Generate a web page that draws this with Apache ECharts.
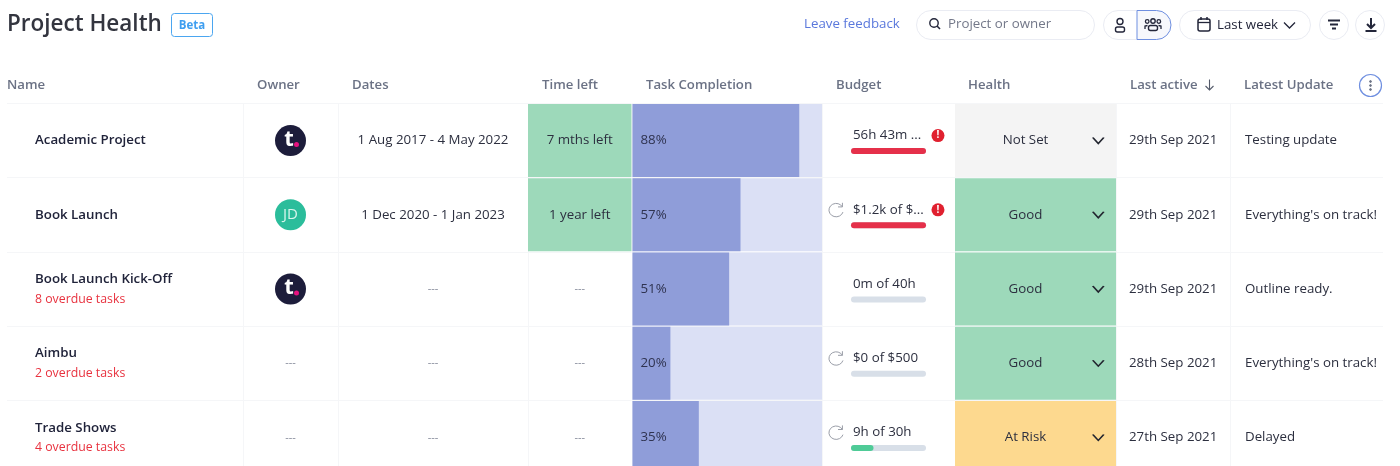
<!DOCTYPE html>
<html>
<head>
<meta charset="utf-8">
<style>html,body{margin:0;padding:0;background:#fff}#main{width:1400px;height:466px}</style>
<script src="https://cdn.jsdelivr.net/npm/echarts@6/dist/echarts.min.js"></script>
</head>
<body>
<div id="main"></div>
<script>
var names = ['Academic Project', 'Book Launch', 'Book Launch Kick-Off', 'Aimbu', 'Trade Shows'];
var overdue = ['', '', '8 overdue tasks', '2 overdue tasks', '4 overdue tasks'];
var owners = ['t', 'JD', 't', '', ''];
var dates = ['1 Aug 2017 - 4 May 2022', '1 Dec 2020 - 1 Jan 2023', '---', '---', '---'];
var timeLeft = ['7 mths left', '1 year left', '---', '---', '---'];
var completion = [88, 57, 51, 20, 35];
var budgetText = ['56h 43m ...', '$1.2k of $...', '0m of 40h', '$0 of $500', '9h of 30h'];
var budgetUsed = [100, 100, 0, 0, 30];
var budgetOver = [1, 1, 0, 0, 0];
var budgetRepeat = [0, 1, 0, 1, 1];
var health = ['Not Set', 'Good', 'Good', 'Good', 'At Risk'];
var lastActive = ['29th Sep 2021', '29th Sep 2021', '29th Sep 2021', '28th Sep 2021', '27th Sep 2021'];
var latestUpdate = ['Testing update', "Everything's on track!", 'Outline ready.', "Everything's on track!", 'Delayed'];
var headers = ['Name', 'Owner', 'Dates', 'Time left', 'Task Completion', 'Budget', 'Health', 'Last active', 'Latest Update'];

var FONT = '"Open Sans", "Noto Sans", sans-serif';
var INK = '#2c2f3f', MUTED = '#6b7285', LINE = '#f5f6f8', PILL = '#eaecf3', RED = '#e5304a';
var healthColors = {'Not Set': '#f4f4f4', 'Good': '#9dd9ba', 'At Risk': '#fdd98f'};
var TOP = 103.5, ROW = 74.2, BAR = 73, BODY = 13.3;

var grids = [], xAxes = [], yAxes = [], series = [];

function addGrid(left, width, top, xMax, withLines, border) {
    var idx = grids.length;
    // last row runs off the bottom of the page, so no fitting to the canvas
    grids.push({left: left, width: width, top: top, height: ROW * 5, outerBoundsMode: 'none'});
    xAxes.push({type: 'value', gridIndex: idx, min: 0, max: xMax, show: false});
    yAxes.push({
        type: 'category', gridIndex: idx, inverse: true, data: names,
        axisTick: {show: false}, axisLabel: {show: false},
        axisLine: {show: !!border, lineStyle: {color: LINE}},
        splitLine: {show: !!withLines, interval: 0, lineStyle: {color: LINE}}
    });
    return idx;
}

// one table column: a full width bar per row carrying the cell fill and the text
function addColumn(left, width, texts, opts) {
    opts = opts || {};
    var idx = addGrid(left, width, TOP, 1, true, left > 10);
    series.push({
        type: 'bar', xAxisIndex: idx, yAxisIndex: idx, barWidth: BAR, silent: true,
        data: texts.map(function (t, i) {
            return {value: 1, text: t, itemStyle: {color: opts.fill ? opts.fill(i) : 'transparent'}};
        }),
        label: {
            show: true,
            position: opts.align === 'left' ? 'insideLeft' : 'inside',
            distance: opts.distance || 0,
            offset: opts.offset || [0, 0],
            fontFamily: FONT, fontSize: BODY, color: INK,
            formatter: opts.formatter || function (p) {
                return p.data.text === '---' ? '{d|---}' : p.data.text;
            },
            rich: opts.rich || {d: {fontFamily: FONT, fontSize: 11, color: '#858a9a'}}
        }
    });
    return idx;
}

// name
addColumn(7, 236, names, {
    align: 'left', distance: 28,
    formatter: function (p) {
        var o = overdue[p.dataIndex];
        return '{n|' + p.data.text + '}' + (o ? '\n{o|' + o + '}' : '');
    },
    rich: {
        n: {fontFamily: FONT, fontSize: BODY, fontWeight: 600, color: '#20233a', lineHeight: 20},
        o: {fontFamily: FONT, fontSize: 12.3, color: '#e8323f', lineHeight: 19}
    }
});

// owner
var ownerGrid = addColumn(243, 95, owners.map(function (o) { return o || '---'; }), {
    formatter: function (p) { return owners[p.dataIndex] ? '' : '{d|---}'; }
});
var avatarColors = {t: '#1d1d3b', JD: '#2bbd9b'};
series.push({
    type: 'scatter', xAxisIndex: ownerGrid, yAxisIndex: ownerGrid, symbolSize: 31, silent: true, z: 3,
    data: owners.map(function (o, i) {
        return o ? {value: [0.5, names[i]], text: o, itemStyle: {color: avatarColors[o], opacity: 1}} : null;
    }).filter(Boolean),
    label: {
        show: true, position: 'inside', color: '#fff', fontFamily: FONT,
        formatter: function (p) { return p.data.text === 't' ? '{t|t}' : '{j|JD}'; },
        rich: {
            t: {fontFamily: FONT, fontSize: 22, fontWeight: 700, color: '#fff', padding: [0, 3, 2, 0]},
            j: {fontFamily: FONT, fontSize: 15, color: '#d8f5ec'}
        }
    }
});
series.push({
    type: 'scatter', xAxisIndex: ownerGrid, yAxisIndex: ownerGrid, symbolSize: 5, silent: true, z: 4,
    symbolOffset: [6, 4], itemStyle: {color: '#e6127f', opacity: 1},
    data: owners.map(function (o, i) { return o === 't' ? [0.5, names[i]] : null; }).filter(Boolean)
});

addColumn(338, 190, dates);
addColumn(528, 103.5, timeLeft, {
    fill: function (i) { return timeLeft[i] === '---' ? 'transparent' : '#9dd9ba'; }
});

// task completion
var taskGrid = addGrid(632.5, 189.5, TOP, 100, true, true);
series.push({
    type: 'bar', xAxisIndex: taskGrid, yAxisIndex: taskGrid, barWidth: BAR, barGap: '-100%', silent: true,
    itemStyle: {color: '#dbe0f5'},
    data: completion.map(function () { return 100; })
});
series.push({
    type: 'bar', xAxisIndex: taskGrid, yAxisIndex: taskGrid, barWidth: BAR, barGap: '-100%', silent: true,
    itemStyle: {color: '#8f9dd9'}, data: completion,
    label: {show: true, position: 'insideLeft', distance: 8, fontFamily: FONT, fontSize: BODY, color: '#2f3350', formatter: '{c}%'}
});

// budget
var budgetGrid = addColumn(822, 133, budgetText, {align: 'left', distance: 31, offset: [0, -5]});
var trackGrid = addGrid(851, 75, TOP + 10.5, 100);
series.push({
    type: 'bar', xAxisIndex: trackGrid, yAxisIndex: trackGrid, barWidth: 6, barGap: '-100%', silent: true,
    itemStyle: {color: '#d8dfe8', borderRadius: 3},
    data: budgetUsed.map(function () { return 100; })
});
series.push({
    type: 'bar', xAxisIndex: trackGrid, yAxisIndex: trackGrid, barWidth: 6, barGap: '-100%', silent: true,
    data: budgetUsed.map(function (v) {
        return {value: v, itemStyle: {color: v >= 100 ? RED : '#4fcb97', borderRadius: 3}};
    })
});
series.push({
    type: 'scatter', xAxisIndex: budgetGrid, yAxisIndex: budgetGrid, symbolSize: 13, symbolOffset: [0, -5], silent: true, z: 4,
    itemStyle: {color: '#e0202f', opacity: 1},
    data: budgetOver.map(function (f, i) { return f ? [0.872, names[i]] : null; }).filter(Boolean),
    label: {show: true, position: 'inside', formatter: '!', color: '#fff', fontFamily: FONT, fontSize: 10, fontWeight: 700}
});
series.push({
    type: 'scatter', xAxisIndex: budgetGrid, yAxisIndex: budgetGrid, symbolSize: 14, symbolOffset: [0, -5], silent: true, z: 4,
    symbol: 'path://M13 2 L13 6 L9 6 M13 6 A6.5 6.5 0 1 0 13.5 11',
    itemStyle: {color: 'transparent', borderColor: '#9a9ea8', borderWidth: 1, opacity: 1},
    data: budgetRepeat.map(function (f, i) { return f ? [0.105, names[i]] : null; }).filter(Boolean)
});

// health
var healthGrid = addColumn(955, 161, health, {
    offset: [-10, 0],
    fill: function (i) { return healthColors[health[i]]; }
});
series.push({
    type: 'scatter', xAxisIndex: healthGrid, yAxisIndex: healthGrid, symbolSize: [11, 6], silent: true, z: 4,
    symbol: 'path://M0 0 L5 5 L10 0',
    itemStyle: {color: 'transparent', borderColor: '#22252f', borderWidth: 1.4, opacity: 1},
    data: health.map(function (h, i) { return [0.89, names[i]]; })
});

addColumn(1116, 114, lastActive, {align: 'left', distance: 13});
addColumn(1230, 153, latestUpdate, {align: 'left', distance: 15});

// header row and toolbar
function txt(x, y, text, size, color, weight, align) {
    return {type: 'text', silent: true, z: 10, style: {
        x: x, y: y, text: text, fill: color, fontFamily: FONT, fontSize: size,
        fontWeight: weight || 400, align: align || 'left', verticalAlign: 'middle'
    }};
}
function rrect(x, y, w, h, r, stroke, fill, lw) {
    return {type: 'rect', silent: true, z: 9, shape: {x: x, y: y, width: w, height: h, r: r},
        style: {fill: fill || '#fff', stroke: stroke, lineWidth: lw || 1}};
}
function circ(x, y, r, stroke, fill, lw) {
    return {type: 'circle', silent: true, z: 10, shape: {cx: x, cy: y, r: r},
        style: {fill: fill || 'transparent', stroke: stroke, lineWidth: lw || 1}};
}
function poly(points, stroke, lw) {
    return {type: 'polyline', silent: true, z: 10, shape: {points: points},
        style: {fill: 'none', stroke: stroke, lineWidth: lw || 1.3}};
}

var headerX = [7, 257, 352, 542, 646, 836, 968, 1130, 1244];
var graphics = headers.map(function (h, i) { return txt(headerX[i], 85.5, h, 13.2, MUTED, 600); });
var ICON = '#23263a';
graphics = graphics.concat([
    txt(7, 25, 'Project Health', 22.5, '#33353f', 600),
    rrect(171.5, 13.5, 41, 23, 3, '#4ba6f0'),
    txt(192, 25.5, 'Beta', 11.5, '#3e9ef0', 700, 'center'),
    txt(804, 24, 'Leave feedback', BODY, '#5a78dc'),
    // search
    rrect(916.5, 10.5, 178, 29, 14.5, PILL),
    circ(934, 23, 4.2, ICON, null, 1.4),
    poly([[937, 26], [940, 29]], ICON, 1.6),
    txt(948, 24, 'Project or owner', BODY, '#737889'),
    // person / team toggle
    rrect(1103.5, 10.5, 60, 29, 14.5, PILL),
    rrect(1137, 10.5, 34, 29, [0, 14.5, 14.5, 0], '#6f8fe0', '#f7f8fc'),
    circ(1120, 21.5, 3, ICON, null, 1.4),
    rrect(1115.5, 27, 9, 5, 2, ICON, 'transparent', 1.4),
    circ(1153, 21, 2.2, ICON, null, 1.4),
    circ(1147.2, 21.5, 1.8, ICON, null, 1.3),
    circ(1158.8, 21.5, 1.8, ICON, null, 1.3),
    rrect(1148.5, 25.5, 9, 5, 2, ICON, 'transparent', 1.4),
    poly([[1145, 29], [1145, 26], [1147.5, 25.5]], ICON, 1.3),
    poly([[1161, 29], [1161, 26], [1158.5, 25.5]], ICON, 1.3),
    // date range
    rrect(1179.5, 10.5, 131, 29, 14.5, PILL),
    rrect(1198, 19, 12, 12, 2, ICON, 'transparent', 1.5),
    poly([[1198, 22.5], [1210, 22.5]], ICON, 1.3),
    poly([[1201, 17], [1201, 20]], ICON, 1.5),
    poly([[1207, 17], [1207, 20]], ICON, 1.5),
    txt(1217, 25.5, 'Last week', BODY, ICON),
    poly([[1284, 22.5], [1289.5, 28], [1295, 22.5]], ICON),
    // filter and download
    circ(1334, 25, 14.5, PILL, '#fff'),
    poly([[1328, 20.5], [1340, 20.5]], ICON, 2),
    poly([[1330, 24.5], [1338, 24.5]], ICON, 2),
    poly([[1332, 28.5], [1336, 28.5]], ICON, 2),
    circ(1370, 25, 14.5, PILL, '#fff'),
    poly([[1371, 18], [1371, 27]], ICON, 2),
    poly([[1367, 24], [1371, 28], [1375, 24]], ICON, 2),
    poly([[1365.5, 31], [1376.5, 31]], ICON, 2),
    // sort arrow and column menu
    poly([[1209.5, 79.5], [1209.5, 90]], '#555b6b', 1.1),
    poly([[1205.5, 86], [1209.5, 90], [1213.5, 86]], '#555b6b', 1.1),
    circ(1370.5, 85.5, 11, '#6f8fe0', '#fff', 1.2),
    circ(1370.5, 81.5, 0.9, MUTED, MUTED),
    circ(1370.5, 85.5, 0.9, MUTED, MUTED),
    circ(1370.5, 89.5, 0.9, MUTED, MUTED)
]);

var chart = echarts.init(document.getElementById('main'));
chart.setOption({
    backgroundColor: '#fff',
    animation: false,
    grid: grids,
    xAxis: xAxes,
    yAxis: yAxes,
    series: series,
    graphic: graphics
});
</script>
</body>
</html>
